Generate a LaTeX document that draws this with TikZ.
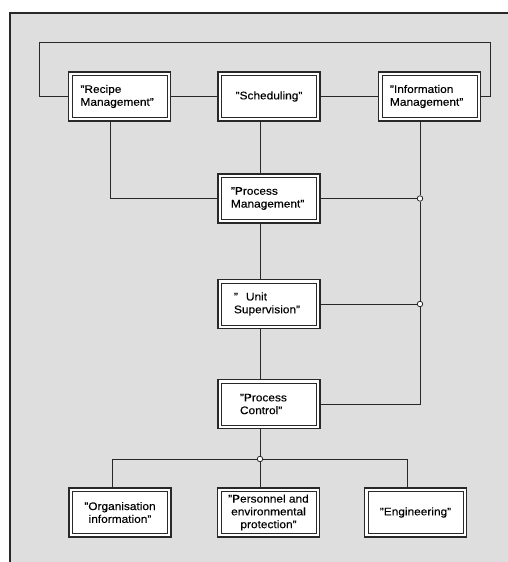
\documentclass[tikz,border=0pt]{standalone}
\usepackage{fontspec}
\setmainfont{Liberation Sans}[FakeStretch=1.08, FakeBold=0.2]
\usetikzlibrary{calc}
\definecolor{bgcol}{RGB}{222,222,222}
\definecolor{linecol}{RGB}{40,40,40}
\tikzset{
  box/.style={draw=linecol, line width=1.5pt, fill=white, minimum width=102pt, minimum height=49pt,
    inner sep=0pt, font=\fontsize{11}{12.8}\selectfont,
    path picture={\draw[linecol, line width=0.7pt]
      ([shift={(3.6pt,-3.6pt)}]path picture bounding box.north west) rectangle
      ([shift={(-3.6pt,3.6pt)}]path picture bounding box.south east);}},
  conn/.style={draw=linecol, line width=0.9pt},
  junction/.style={circle, draw=linecol, line width=0.8pt, fill=white, minimum size=5.5pt, inner sep=0pt}
}
\begin{document}
\begin{tikzpicture}[x=1pt,y=-1pt]
\useasboundingbox (0,0) rectangle (508,562);
\fill[bgcol] (10,13) rectangle (508,562);
\draw[linecol, line width=1.6pt] (10,562) -- (10,13) -- (508,13);

\node[box, text width=78pt, align=left] (recipe) at (119.5,96.5) {"Recipe\\Management"};
\node[box, align=center] (sched) at (269,96.5) {"Scheduling"};
\node[box, text width=79pt, align=left] (info) at (429.5,96.5) {"Information\\Management"};
\node[box, text width=76pt, align=left] (pm) at (269,198.5) {"Process\\Management"};
\node[box, text width=70pt, align=left] (us) at (269,304) {"\hspace{8pt}Unit\\Supervision"};
\node[box, text width=58pt, align=left] (pc) at (269,404) {"Process\\Control"};
\node[box, align=center] (org) at (120,512.5) {"Organisation\\information"};
\node[box, align=center] (pers) at (268.5,512.5) {"Personnel and\\environmental\\protection"};
\node[box, align=center] (eng) at (415.5,512.5) {"Engineering"};

\coordinate (tl) at (39,42);
\coordinate (tr) at (490,42);
\node[junction] (j1) at (420,198.5) {};
\node[junction] (j2) at (420,304) {};
\node[junction] (j3) at (260,459) {};

% top loop
\draw[conn] (recipe.west) -| (tl) -- (tr) |- (info.east);
\draw[conn] (recipe.east) -- (sched.west);
\draw[conn] (sched.east) -- (info.west);
% to process management
\draw[conn] ([xshift=-9.5pt]recipe.south) |- (pm.west);
\draw[conn] ([xshift=-9pt]sched.south) -- ([xshift=-9pt]pm.north);
\draw[conn] ([xshift=-9.5pt]info.south) -- (j1.north);
\draw[conn] (j1.south) -- (j2.north);
\draw[conn] (j2.south) |- (pc.east);
\draw[conn] (pm.east) -- (j1.west);
\draw[conn] (us.east) -- (j2.west);
% central chain
\draw[conn] ([xshift=-9pt]pm.south) -- ([xshift=-9pt]us.north);
\draw[conn] ([xshift=-9pt]us.south) -- ([xshift=-9pt]pc.north);
\draw[conn] ([xshift=-9pt]pc.south) -- (j3.north);
% bottom fan
\draw[conn] (j3.west) -| ([xshift=-8pt]org.north);
\draw[conn] (j3.east) -| ([xshift=-8.5pt]eng.north);
\draw[conn] (j3.south) -- ([xshift=-8.5pt]pers.north);
\end{tikzpicture}
\end{document}
